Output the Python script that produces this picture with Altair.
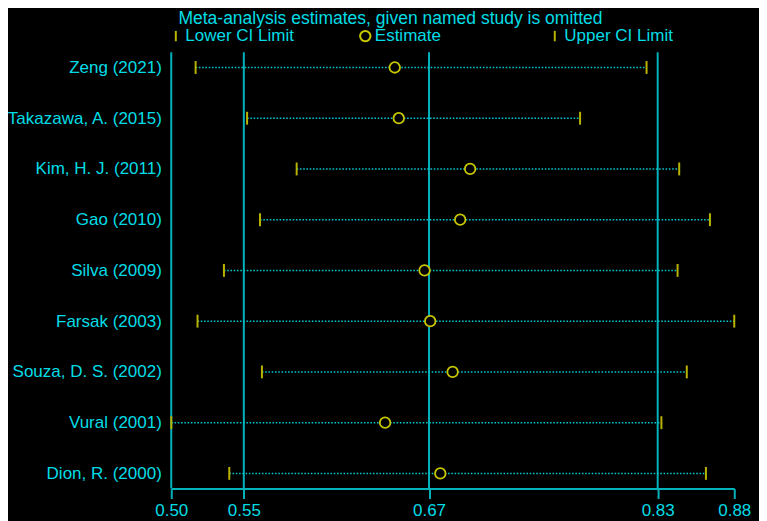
import altair as alt
import pandas as pd

# ---- data ----
studies = ["Zeng (2021)", "Takazawa, A. (2015)", "Kim, H. J. (2011)", "Gao (2010)",
           "Silva (2009)", "Farsak (2003)", "Souza, D. S. (2002)", "Vural (2001)",
           "Dion, R. (2000)"]
lower = [0.5167, 0.5514, 0.5848, 0.5601, 0.5358, 0.5180, 0.5614, 0.5003, 0.5394]
estimate = [0.6509, 0.6536, 0.7017, 0.6950, 0.6710, 0.6748, 0.6899, 0.6444, 0.6816]
upper = [0.8206, 0.7758, 0.8426, 0.8633, 0.8415, 0.8797, 0.8477, 0.8306, 0.8606]
overall = [0.5492, 0.6740, 0.8281]          # combined lower CI, estimate, upper CI
types = ["Lower CI Limit", "Estimate", "Upper CI Limit"]
title_text = "Meta-analysis estimates, given named study is omitted"

axis_min, axis_max = min(lower), max(upper)
tick_values = [axis_min] + overall + [axis_max]
grid_values = [axis_min] + overall

# ---- tables ----
ci = pd.DataFrame({"study": studies, "lower": lower, "estimate": estimate, "upper": upper})
limits = pd.concat([
    pd.DataFrame({"study": studies, "value": lower, "type": types[0]}),
    pd.DataFrame({"study": studies, "value": upper, "type": types[2]}),
], ignore_index=True)
ests = pd.DataFrame({"study": studies, "value": estimate, "type": types[1]})
grid = pd.DataFrame({"v": grid_values})

CYAN_TEXT = "#00DDE6"
CYAN_LINE = "#00B2BC"
CYAN_DOT = "#00C4CE"
FONT = "Liberation Sans"
FS = 17.2

xscale = alt.Scale(domain=[axis_min, axis_max], nice=False, zero=False)
yscale = alt.Scale(type="point", domain=studies, padding=0.3)

xaxis = alt.Axis(values=tick_values, labelExpr="format(datum.value, '.2f')",
                 grid=False, domainColor=CYAN_LINE, domainWidth=2, tickColor=CYAN_LINE,
                 tickWidth=2, tickSize=10, labelColor=CYAN_TEXT, labelFontSize=FS,
                 labelFont=FONT, labelPadding=3, title=None, labelFlush=False,
                 labelOverlap=False)
yaxis = alt.Axis(domain=False, ticks=False, grid=False, labelColor=CYAN_TEXT,
                 labelFontSize=FS, labelFont=FONT, labelPadding=10, title=None)

shape_scale = alt.Scale(domain=types, range=["M0,-1L0,1", "circle", "M0,-1L0,1"])
color_scale = alt.Scale(domain=types, range=["#B8B400", "#C8C800", "#B8B400"])
legend = alt.Legend(orient="none", legendX=-4, legendY=-25, direction="horizontal",
                    columns=3, gridAlign="all", columnPadding=61.5, labelFontSize=FS,
                    labelColor=CYAN_TEXT, labelFont=FONT, symbolSize=110,
                    symbolStrokeWidth=2, labelOffset=1, title=None)

gridlines = alt.Chart(grid).mark_rule(color=CYAN_LINE, strokeWidth=2).encode(
    x=alt.X("v:Q", scale=xscale, axis=xaxis)
)

dots = alt.Chart(ci).mark_rule(color=CYAN_DOT, strokeWidth=1.5, strokeDash=[1.6, 1.7]).encode(
    x=alt.X("lower:Q", scale=xscale, axis=xaxis),
    x2="upper:Q",
    y=alt.Y("study:N", scale=yscale, axis=yaxis, sort=studies),
)

ticks = alt.Chart(limits).mark_point(filled=False, strokeWidth=2, size=169, opacity=1).encode(
    x=alt.X("value:Q", scale=xscale, axis=xaxis),
    y=alt.Y("study:N", scale=yscale, axis=yaxis, sort=studies),
    shape=alt.Shape("type:N", scale=shape_scale, sort=types, legend=legend),
    color=alt.Color("type:N", scale=color_scale, sort=types, legend=legend),
)

circles = alt.Chart(ests).mark_point(filled=False, fill="black", strokeWidth=1.8, size=113,
                                     opacity=1).encode(
    x=alt.X("value:Q", scale=xscale, axis=xaxis),
    y=alt.Y("study:N", scale=yscale, axis=yaxis, sort=studies),
    shape=alt.Shape("type:N", scale=shape_scale, sort=types, legend=legend),
    color=alt.Color("type:N", scale=color_scale, sort=types, legend=legend),
)

chart = alt.layer(gridlines, dots, ticks, circles).properties(
    width=569, height=441,
    title=alt.TitleParams(title_text, fontSize=17.7, color=CYAN_TEXT, font=FONT,
                          fontWeight="normal", anchor="middle", dx=-63, offset=0),
    autosize=alt.AutoSizeParams(type="none"),
    padding={"left": 165, "top": 42, "right": 25, "bottom": 30},
).configure(background="black").configure_view(stroke=None)

chart.save("out.html", embed_options={"renderer": "svg", "actions": False})
